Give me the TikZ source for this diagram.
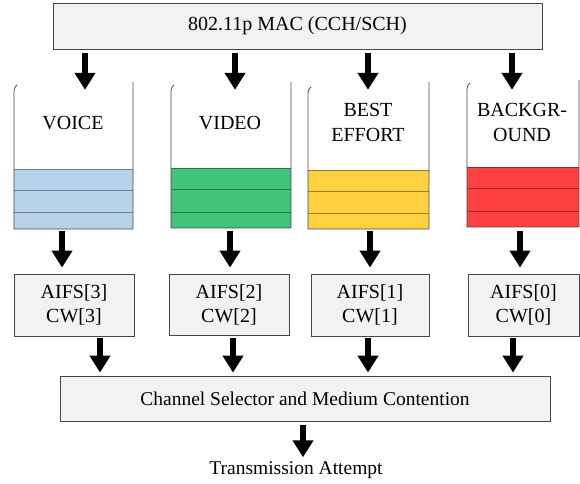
\documentclass[tikz,border=0pt]{standalone}
\usepackage{fontspec}
\setmainfont{Liberation Serif}
\usetikzlibrary{arrows.meta}
\definecolor{boxfill}{RGB}{242,242,242}
\definecolor{boxline}{RGB}{70,70,70}
\definecolor{qblue}{RGB}{183,211,236}
\definecolor{qgreen}{RGB}{64,196,124}
\definecolor{qyellow}{RGB}{255,208,64}
\definecolor{qred}{RGB}{255,64,64}
\tikzset{
  graybox/.style={draw=boxline, fill=boxfill, line width=0.9pt, inner sep=0pt, font=\fontsize{20}{24}\selectfont, align=center},
  arr/.style={line width=6.5pt, -{Triangle[width=20pt,length=17pt]}},
  qlabel/.style={font=\fontsize{20}{25}\selectfont, align=center, inner sep=0pt},
  qline/.style={draw=boxline, line width=0.8pt},
}
% queue: #1 name, #2 L, #3 R, #4 topL, #5 topR, #6 color top, #7 bottom, #8 line1, #9 line2, colour via \qcol
\newcommand{\drawqueue}[9]{%
  \node[inner sep=0pt, minimum width={#3-#2}, minimum height={#7-#5}] (#1) at ({(#2+#3)/2},{(#5+#7)/2}) {};
  \fill[\qcol] (#2,#6) rectangle (#3,#7);
  \draw[\qcol!60!black, line width=0.7pt] (#2,#8) -- (#3,#8) (#2,#9) -- (#3,#9) (#2,#6) -- (#3,#6);
  \draw[qline] (#2+3,#4) .. controls (#2,#4+3) .. (#2,#4+10) -- (#2,#7) -- (#3,#7) -- (#3,#5);
}
\begin{document}
\begin{tikzpicture}[x=1pt,y=-1pt]
\useasboundingbox (0,0) rectangle (580,483);

\node[graybox, minimum width=489, minimum height=46] (mac) at (297.5,26) {802.11p MAC (CCH/SCH)};

\def\qcol{qblue}
\drawqueue{q1}{14}{133}{85}{82}{169}{229}{190}{212}
\def\qcol{qgreen}
\drawqueue{q2}{171}{291}{85}{82}{168}{228}{189}{212}
\def\qcol{qyellow}
\drawqueue{q3}{308}{429}{87}{82}{170}{229}{191}{213}
\def\qcol{qred}
\drawqueue{q4}{467}{579}{83}{80}{167}{227}{188}{211}

\node[qlabel] (t1) at (73,123) {VOICE};
\node[qlabel] (t2) at (230,123) {VIDEO};
\node[qlabel] (t3) at (368,122.5) {BEST\\EFFORT};
\node[qlabel] (t4) at (522,122.5) {BACKGR-\\OUND};

\node[graybox, minimum width=120, minimum height=62] (b1) at (74,305) {AIFS[3]\\CW[3]};
\node[graybox, minimum width=120, minimum height=61] (b2) at (229,304.5) {AIFS[2]\\CW[2]};
\node[graybox, minimum width=118, minimum height=62] (b3) at (370,305) {AIFS[1]\\CW[1]};
\node[graybox, minimum width=111, minimum height=62] (b4) at (523.5,305) {AIFS[0]\\CW[0]};

\node[graybox, minimum width=490, minimum height=45, font=\fontsize{19.5}{24}\selectfont] (cs) at (305,398.5) {Channel Selector and Medium Contention};

\node[inner sep=0pt, font=\fontsize{19.5}{24}\selectfont] (ta) at (296,470) {Transmission Attempt};

% arrows top
\draw[arr] ([yshift=-4pt]mac.south -| 85,0) -- ([yshift=-8pt]q1.north -| 85,0);
\draw[arr] ([yshift=-4pt]mac.south -| 235,0) -- ([yshift=-8pt]q2.north -| 235,0);
\draw[arr] ([yshift=-4pt]mac.south -| 368,0) -- ([yshift=-8pt]q3.north -| 368,0);
\draw[arr] ([yshift=-4pt]mac.south -| 512,0) -- ([yshift=-10pt]q4.north -| 512,0);
% queue to boxes
\draw[arr] ([yshift=-2pt]q1.south -| 62,0) -- ([yshift=6pt]b1.north -| 62,0);
\draw[arr] ([yshift=-3pt]q2.south -| 230,0) -- ([yshift=6pt]b2.north -| 230,0);
\draw[arr] ([yshift=-2pt]q3.south -| 370,0) -- ([yshift=6pt]b3.north -| 370,0);
\draw[arr] ([yshift=-4pt]q4.south -| 520,0) -- ([yshift=6pt]b4.north -| 520,0);
% boxes to selector
\draw[arr] ([yshift=-2pt]b1.south -| 100,0) -- ([yshift=3pt]cs.north -| 100,0);
\draw[arr] ([yshift=-3pt]b2.south -| 233,0) -- ([yshift=3pt]cs.north -| 233,0);
\draw[arr] ([yshift=-2pt]b3.south -| 368,0) -- ([yshift=3pt]cs.north -| 368,0);
\draw[arr] ([yshift=-2pt]b4.south -| 513,0) -- ([yshift=3pt]cs.north -| 513,0);
% selector to attempt
\draw[arr] ([yshift=-4pt]cs.south -| 303,0) -- ([yshift=4pt]ta.north -| 303,0);
\end{tikzpicture}
\end{document}
